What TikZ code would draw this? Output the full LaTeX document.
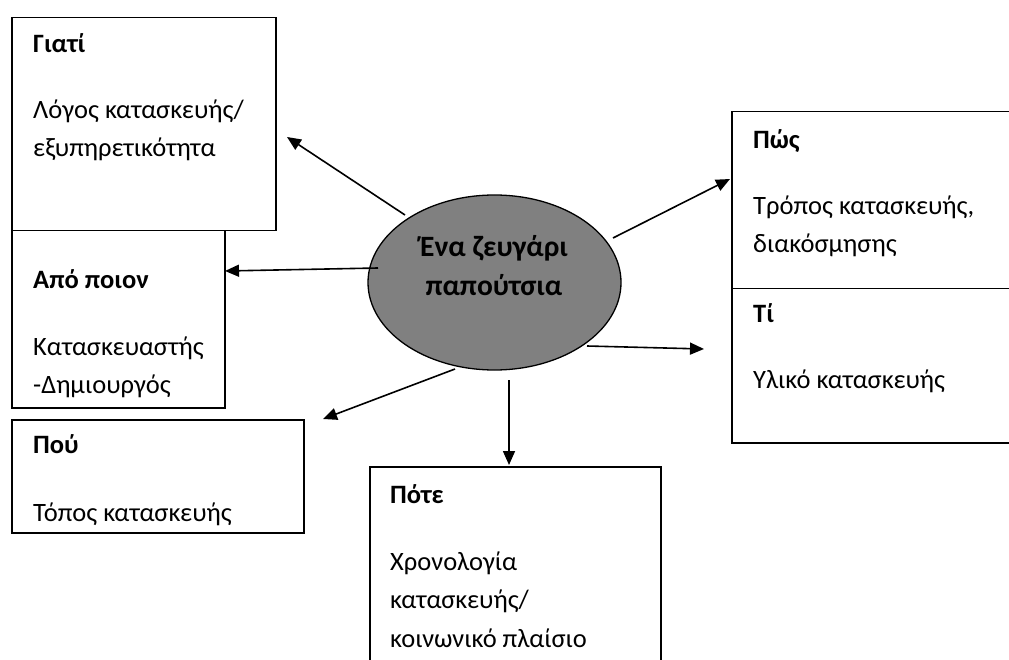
\documentclass[tikz,border=0pt]{standalone}
\usepackage{fontspec}
\setmainfont{Carlito}
\usetikzlibrary{arrows.meta}
\definecolor{ellgray}{RGB}{128,128,128}
\tikzset{
  box/.style={draw=black, line width=1.5pt, rectangle, anchor=north west, inner sep=0pt},
  ttl/.style={anchor=base west, inner sep=0pt, font=\fontsize{26.5}{30}\selectfont\bfseries},
  txt/.style={anchor=base west, inner sep=0pt, font=\fontsize{26.5}{30}\selectfont},
  etxt/.style={anchor=base, inner sep=0pt, font=\fontsize{29.5}{34}\selectfont\bfseries},
  arr/.style={line width=1.6pt, -{Triangle[length=14pt,width=12pt]}}
}
\begin{document}
\begin{tikzpicture}[x=1pt,y=-1pt]
\useasboundingbox (0,0) rectangle (1009,660);
\clip (0,0) rectangle (1009,660);
% boxes
\node[box, minimum width=264pt, minimum height=213pt] (giati) at (11,17) {};
\node[box, minimum width=213pt, minimum height=177pt] (apo) at (11,230) {};
\node[box, minimum width=292pt, minimum height=113pt] (pou) at (11,419) {};
\node[box, minimum width=300pt, minimum height=177pt] (pos) at (731,111) {};
\node[box, minimum width=300pt, minimum height=154pt] (ti) at (731,288) {};
\node[box, minimum width=291pt, minimum height=220pt] (pote) at (369,466) {};
% texts
\node[ttl] (t1) at (33,53) {Γιατί};
\node[txt] (t1a) at (33,119) {Λόγος κατασκευής/};
\node[txt] (t1b) at (33,157) {εξυπηρετικότητα};
\node[ttl] (t2) at (33,288) {Από ποιον};
\node[txt] (t2a) at (33,355) {Κατασκευαστής};
\node[txt] (t2b) at (33,393) {-Δημιουργός};
\node[ttl] (t3) at (33,453) {Πού};
\node[txt] (t3a) at (33,521) {Τόπος κατασκευής};
\node[ttl] (t4) at (753,149) {Πώς};
\node[txt] (t4a) at (753,215) {Τρόπος κατασκευής,};
\node[txt] (t4b) at (753,253) {διακόσμησης};
\node[ttl] (t5) at (753,323) {Τί};
\node[txt] (t5a) at (753,388) {Υλικό κατασκευής};
\node[ttl] (t6) at (390,503) {Πότε};
\node[txt] (t6a) at (390,570) {Χρονολογία};
\node[txt] (t6b) at (390,608) {κατασκευής/};
\node[txt] (t6c) at (390,647) {κοινωνικό πλαίσιο};
% ellipse
\draw[fill=ellgray, line width=1.3pt] (494.5,282.5) ellipse [x radius=126.5, y radius=87.5];
\node[etxt] (e1) at (494,257) {Ένα ζευγάρι};
\node[etxt] (e2) at (494,296) {παπούτσια};
% arrow coordinates
\coordinate (s1) at (405,215); \coordinate (d1) at (287,137);
\coordinate (s2) at (378,268); \coordinate (d2) at (225,271);
\coordinate (s3) at (455,369); \coordinate (d3) at (323,419);
\coordinate (s4) at (509,380); \coordinate (d4) at (509,465);
\coordinate (s5) at (587,346); \coordinate (d5) at (704,349);
\coordinate (s6) at (613,238); \coordinate (d6) at (730,179);
\draw[arr] (s1) -- (d1);
\draw[arr] (s2) -- (d2);
\draw[arr] (s3) -- (d3);
\draw[arr] (s4) -- (d4);
\draw[arr] (s5) -- (d5);
\draw[arr] (s6) -- (d6);
\end{tikzpicture}
\end{document}
